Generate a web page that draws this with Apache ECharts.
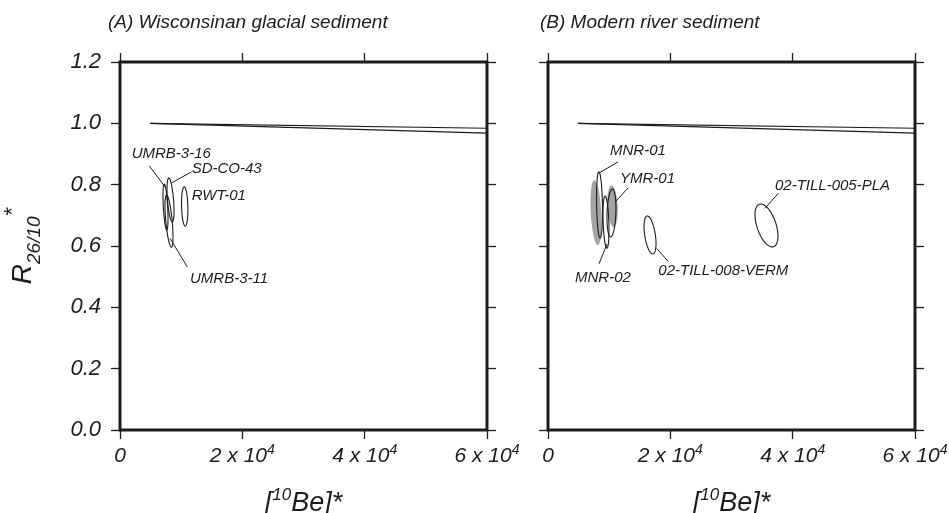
<!DOCTYPE html>
<html>
<head>
<meta charset="utf-8">
<script src="https://cdn.jsdelivr.net/npm/echarts/dist/echarts.min.js"></script>
<style>
  html, body { margin: 0; padding: 0; background: #ffffff; }
  #chart { width: 949px; height: 513px; }
</style>
</head>
<body>
<div id="chart"></div>
<script>
// ---- Axis ticks ----
const xTickValues = [0, 20000, 40000, 60000];
const xTickText = ['0', '2 x 10^4', '4 x 10^4', '6 x 10^4'];

// ---- Constant-exposure and steady-erosion reference curves (normalised) ----
const curveBe = [4900, 60000];
const constantExposureR = [1.0, 0.984];
const steadyErosionR = [1.0, 0.968];

// ---- (A) Wisconsinan glacial sediment: 1-sigma error ellipses ----
const glacialNames = ['UMRB-3-16', 'SD-CO-43', 'RWT-01', 'UMRB-3-11'];
const glacialBe = [7440, 8260, 10580, 8010];
const glacialR = [0.727, 0.750, 0.729, 0.681];
const glacialBeErr = [410, 570, 520, 650];
const glacialRErr = [0.075, 0.072, 0.064, 0.085];
const glacialRho = [-0.5, -0.5, -0.15, -0.6];

// ---- (B) Modern river sediment: 1-sigma error ellipses ----
const riverNames = ['MNR-01', 'MNR-02', 'YMR-01', '02-TILL-008-VERM', '02-TILL-005-PLA'];
const riverBe = [8420, 9480, 10380, 16680, 35720];
const riverR = [0.734, 0.678, 0.7075, 0.636, 0.667];
const riverBeErr = [490, 490, 735, 980, 1880];
const riverRErr = [0.108, 0.085, 0.078, 0.062, 0.070];
const riverRho = [-0.2, -0.3, 0.2, -0.45, -0.5];

// shaded ellipses under the MNR and YMR samples
const riverShadeBe = [7850, 10550];
const riverShadeR = [0.709, 0.730];
const riverShadeBeErr = [900, 850];
const riverShadeRErr = [0.106, 0.068];
const riverShadeRho = [-0.3, -0.2];

// ---- Sample label anchors (data units): text start and leader line ends ----
const glacialLabelAt = [[1910, 0.900], [11720, 0.851], [11720, 0.763], [11450, 0.492]];
const glacialLeaders = [
  [[4790, 0.861], [7360, 0.793]],
  [[11720, 0.842], [8450, 0.806]],
  null,
  [[8180, 0.625], [11000, 0.532]]
];
const riverLabelAt = [[10140, 0.910], [4410, 0.496], [11770, 0.818], [18030, 0.518], [37110, 0.796]];
const riverLeaders = [
  [[11450, 0.874], [8340, 0.838]],
  [[8340, 0.542], [9650, 0.606]],
  [[13080, 0.789], [10950, 0.743]],
  [[17770, 0.592], [19670, 0.549]],
  [[37650, 0.772], [35480, 0.723]]
];

const INK = '#1c1c1c';
const FONT = '"Liberation Sans", Arial, Helvetica, sans-serif';

function ellipseData(be, r, beErr, rErr, rho) {
  return be.map((v, i) => [v, r[i], beErr[i], rErr[i], rho[i]]);
}

function ellipseSeries(axisIdx, data, style) {
  return {
    type: 'custom',
    xAxisIndex: axisIdx, yAxisIndex: axisIdx,
    silent: true, animation: false,
    data: data,
    renderItem: function (params, api) {
      const cx = api.value(0), cy = api.value(1);
      const sx = api.value(2), sy = api.value(3), rho = api.value(4);
      const k = Math.sqrt(1 - rho * rho);
      const pts = [];
      const n = 90;
      for (let j = 0; j < n; j++) {
        const t = 2 * Math.PI * j / n;
        pts.push(api.coord([cx + sx * Math.cos(t), cy + sy * (rho * Math.cos(t) + k * Math.sin(t))]));
      }
      return { type: 'polygon', shape: { points: pts }, style: style };
    }
  };
}

function labelSeries(axisIdx, names, at) {
  return {
    type: 'custom',
    xAxisIndex: axisIdx, yAxisIndex: axisIdx,
    silent: true, animation: false,
    data: at.map((p, i) => [p[0], p[1], i]),
    renderItem: function (params, api) {
      const p = api.coord([api.value(0), api.value(1)]);
      return {
        type: 'text', x: p[0], y: p[1],
        style: {
          text: names[api.value(2)], fill: INK,
          fontSize: 15, fontStyle: 'italic', fontFamily: FONT,
          align: 'left', verticalAlign: 'middle',
          textAlign: 'left', textVerticalAlign: 'middle'
        }
      };
    }
  };
}

function leaderSeries(axisIdx, leaders) {
  const segs = leaders.filter(Boolean).map(s => [s[0][0], s[0][1], s[1][0], s[1][1]]);
  return {
    type: 'custom',
    xAxisIndex: axisIdx, yAxisIndex: axisIdx,
    silent: true, animation: false,
    data: segs,
    renderItem: function (params, api) {
      const a = api.coord([api.value(0), api.value(1)]);
      const b = api.coord([api.value(2), api.value(3)]);
      return { type: 'line', shape: { x1: a[0], y1: a[1], x2: b[0], y2: b[1] }, style: { stroke: INK, lineWidth: 1 } };
    }
  };
}

function curveSeries(axisIdx, rVals) {
  return {
    type: 'line', xAxisIndex: axisIdx, yAxisIndex: axisIdx,
    silent: true, animation: false, showSymbol: false, symbol: 'none',
    data: curveBe.map((x, i) => [x, rVals[i]]),
    lineStyle: { color: INK, width: 1.2 }
  };
}

function xTickFormatter(v) {
  const i = xTickValues.indexOf(v);
  const s = i >= 0 ? xTickText[i] : String(v);
  const parts = s.split('^');
  return parts.length > 1 ? '{n|' + parts[0] + '}{s|' + parts[1] + '}' : '{n|' + parts[0] + '}';
}

const tickStyle = { show: true, length: 9, lineStyle: { color: INK, width: 1.3 } };

function xAxes(grid) {
  return [
    {
      type: 'value', gridIndex: grid, position: 'bottom',
      min: 0, max: 60000, interval: 20000,
      axisLine: { show: false, onZero: false },
      axisTick: tickStyle,
      splitLine: { show: false },
      axisLabel: {
        margin: 13, formatter: xTickFormatter,
        rich: {
          n: { fontSize: 21, fontStyle: 'italic', fontFamily: FONT, color: INK, lineHeight: 26 },
          s: { fontSize: 14, fontStyle: 'italic', fontFamily: FONT, color: INK, lineHeight: 10, verticalAlign: 'top' }
        }
      },
      name: '{a|[}{s|10}{a|Be]*}', nameLocation: 'middle', nameGap: 57,
      nameTextStyle: {
        rich: {
          a: { fontSize: 27, fontStyle: 'italic', fontFamily: FONT, color: INK, lineHeight: 32 },
          s: { fontSize: 17, fontStyle: 'italic', fontFamily: FONT, color: INK, lineHeight: 16, verticalAlign: 'top' }
        }
      }
    },
    {
      type: 'value', gridIndex: grid, position: 'top',
      min: 0, max: 60000, interval: 20000,
      axisLine: { show: false, onZero: false },
      axisTick: tickStyle, axisLabel: { show: false }, splitLine: { show: false }
    }
  ];
}

function yAxes(grid, withLabels) {
  const left = {
    type: 'value', gridIndex: grid, position: 'left',
    min: 0, max: 1.2, interval: 0.2,
    axisLine: { show: false, onZero: false },
    axisTick: tickStyle, splitLine: { show: false },
    axisLabel: {
      show: withLabels,
      margin: 19, color: INK, fontSize: 22, fontStyle: 'italic', fontFamily: FONT,
      formatter: v => v.toFixed(1)
    }
  };
  if (withLabels) {
    left.name = '{r|R}{b|26/10}{p|*}';
    left.nameLocation = 'middle';
    left.nameGap = 76;
    left.nameTextStyle = {
      rich: {
        r: { fontSize: 28, fontStyle: 'italic', fontFamily: FONT, color: INK, lineHeight: 42 },
        b: { fontSize: 19, fontStyle: 'italic', fontFamily: FONT, color: INK, lineHeight: 26, verticalAlign: 'bottom' },
        p: { fontSize: 22, fontStyle: 'italic', fontFamily: FONT, color: INK, lineHeight: 27, verticalAlign: 'top' }
      }
    };
  }
  const right = {
    type: 'value', gridIndex: grid, position: 'right',
    min: 0, max: 1.2, interval: 0.2,
    axisLine: { show: false, onZero: false },
    axisTick: tickStyle, axisLabel: { show: false }, splitLine: { show: false }
  };
  return [left, right];
}

const gridBase = {
  top: 62, width: 367, height: 368, containLabel: false, outerBoundsMode: 'none',
  show: true, borderColor: INK, borderWidth: 3, backgroundColor: 'transparent'
};

const chart = echarts.init(document.getElementById('chart'), null, { renderer: 'canvas' });
chart.setOption({
  backgroundColor: '#ffffff',
  animation: false,
  title: [
    { text: '(A) Wisconsinan glacial sediment', left: 108, top: 13, padding: 0,
      textStyle: { fontSize: 19, fontStyle: 'italic', fontWeight: 'normal', fontFamily: FONT, color: INK } },
    { text: '(B) Modern river sediment', left: 540, top: 13, padding: 0,
      textStyle: { fontSize: 19, fontStyle: 'italic', fontWeight: 'normal', fontFamily: FONT, color: INK } }
  ],
  grid: [
    Object.assign({ left: 120 }, gridBase),
    Object.assign({ left: 548 }, gridBase)
  ],
  xAxis: [...xAxes(0), ...xAxes(1)],
  yAxis: [...yAxes(0, true), ...yAxes(1, false)],
  series: [
    // panel A
    curveSeries(0, constantExposureR),
    curveSeries(0, steadyErosionR),
    ellipseSeries(0, ellipseData(glacialBe, glacialR, glacialBeErr, glacialRErr, glacialRho),
      { fill: 'none', stroke: INK, lineWidth: 1.1 }),
    leaderSeries(0, glacialLeaders),
    labelSeries(0, glacialNames, glacialLabelAt),
    // panel B
    curveSeries(2, constantExposureR),
    curveSeries(2, steadyErosionR),
    ellipseSeries(2, ellipseData(riverShadeBe, riverShadeR, riverShadeBeErr, riverShadeRErr, riverShadeRho),
      { fill: '#a3a3a3', stroke: 'none' }),
    ellipseSeries(2, ellipseData(riverBe, riverR, riverBeErr, riverRErr, riverRho),
      { fill: 'none', stroke: INK, lineWidth: 1.1 }),
    leaderSeries(2, riverLeaders),
    labelSeries(2, riverNames, riverLabelAt)
  ]
});
</script>
</body>
</html>
